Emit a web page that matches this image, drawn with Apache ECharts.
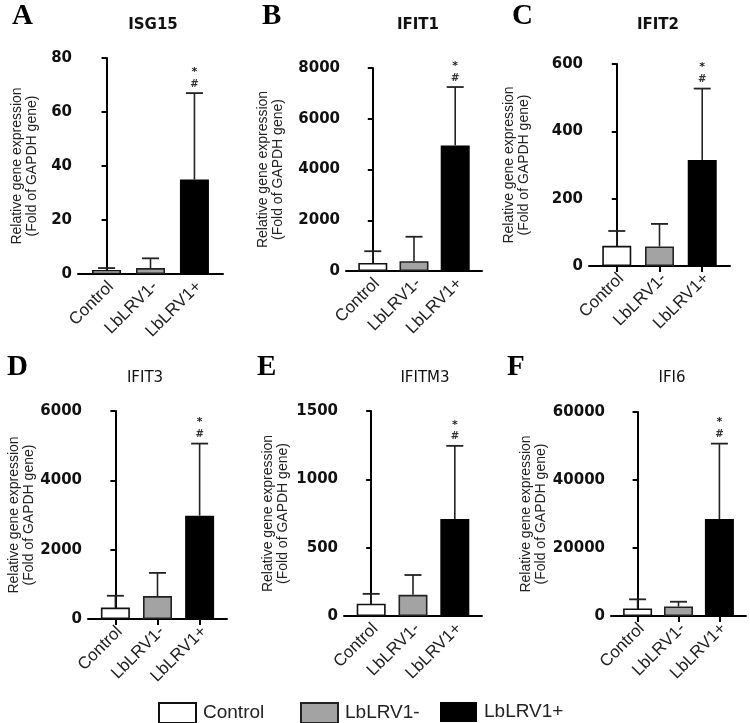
<!DOCTYPE html>
<html>
<head>
<meta charset="utf-8">
<script src="https://cdn.jsdelivr.net/npm/echarts@6/dist/echarts.min.js"></script>
<style>html,body{margin:0;padding:0;background:#fff}#c{width:750px;height:723px}</style>
</head>
<body>
<div id="c"></div>
<script>
// ---- data ----
const categories = ['Control', 'LbLRV1-', 'LbLRV1+'];
const genes = ['ISG15', 'IFIT1', 'IFIT2', 'IFIT3', 'IFITM3', 'IFI6'];
const letters = ['A', 'B', 'C', 'D', 'E', 'F'];
const isg15Mean = [1.5, 2.2, 35];     const isg15SD = [0.7, 3.6, 32];
const ifit1Mean = [315, 385, 4950];   const ifit1SD = [465, 965, 2300];
const ifit2Mean = [60, 58, 315];      const ifit2SD = [44, 67, 212];
const ifit3Mean = [330, 660, 2980];   const ifit3SD = [340, 670, 2080];
const ifitm3Mean = [90, 155, 710];    const ifitm3SD = [72, 145, 535];
const ifi6Mean = [2200, 2800, 28500]; const ifi6SD = [2700, 1400, 22200];
const yMax = [80, 8000, 600, 6000, 1500, 60000];
const yStep = [20, 2000, 200, 2000, 500, 20000];
const sigHash = ['', '', '#'];
const sigStar = ['', '', '*'];
const means = [isg15Mean, ifit1Mean, ifit2Mean, ifit3Mean, ifitm3Mean, ifi6Mean];
const sds = [isg15SD, ifit1SD, ifit2SD, ifit3SD, ifitm3SD, ifi6SD];

// ---- layout / style ----
const grids = [
  {left: 78, top: 58, width: 145, height: 216},
  {left: 346, top: 68, width: 136, height: 203},
  {left: 589, top: 64, width: 141, height: 202},
  {left: 88, top: 411, width: 139, height: 208},
  {left: 344, top: 411, width: 138, height: 205},
  {left: 611, top: 412, width: 135, height: 204}
];
const nameGaps = [38, 60, 57, 48, 53, 58];
const showXTick = [false, false, true, true, false, true];
const titlePos = [[153, 25], [418, 25], [658, 25], [145, 378], [425, 378], [672, 378]];
const letterPos = [[12, 17], [262, 17], [512, 17], [7, 368], [257, 368], [507, 368]];
const legendLeft = [158, 300, 440];
const titleWeight = ['bold', 'bold', 'bold', 'normal', 'normal', 'normal'];
const fills = ['#ffffff', '#a3a3a3', '#000000'];
const borders = ['#111', '#222', '#000'];
const labelShift = 0.1;

const option = {
  animation: false,
  backgroundColor: '#fff',
  grid: grids.map(g => Object.assign({containLabel: false}, g)),
  xAxis: grids.map((g, i) => ({
    type: 'value', gridIndex: i, min: -0.65, max: 2.65,
    splitLine: {show: false},
    axisLine: {show: true, onZero: false, lineStyle: {color: '#000', width: 2}},
    axisTick: {show: showXTick[i], customValues: [0, 1, 2], length: 6, lineStyle: {color: '#000', width: 2}},
    axisLabel: {
      customValues: [0, 1, 2].map(v => v + labelShift), rotate: 45, margin: 10,
      formatter: v => categories[Math.round(v)],
      fontFamily: 'Liberation Sans, Arial, sans-serif', fontSize: 17, color: '#222'
    }
  })),
  yAxis: grids.map((g, i) => ({
    type: 'value', gridIndex: i, min: 0, max: yMax[i], interval: yStep[i],
    splitLine: {show: false},
    axisLine: {show: true, lineStyle: {color: '#000', width: 2}},
    axisTick: {show: true, length: 5, lineStyle: {color: '#000', width: 2}},
    axisLabel: {margin: 6, formatter: v => String(v), fontFamily: 'DejaVu Sans, sans-serif', fontWeight: 'bold', fontSize: 15, color: '#111'},
    name: 'Relative gene expression\n(Fold of GAPDH gene)',
    nameLocation: 'middle', nameGap: nameGaps[i], nameRotate: 90,
    nameTextStyle: {fontFamily: 'Liberation Sans, Arial, sans-serif', fontSize: 14, lineHeight: 15, color: '#222'}
  })),
  legend: categories.map((c, k) => ({
    data: [c], left: legendLeft[k], top: 702, padding: 0, itemWidth: 37, itemHeight: 20,
    selectedMode: false, icon: 'rect',
    textStyle: {fontFamily: 'Liberation Sans, Arial, sans-serif', fontSize: 19, color: '#222', padding: [0, 0, 0, 2]}
  })),
  graphic: [],
  series: []
};

genes.forEach((gname, i) => {
  option.graphic.push({
    type: 'text', x: titlePos[i][0], y: titlePos[i][1], silent: true,
    style: {text: gname, textAlign: 'center', textVerticalAlign: 'middle',
      font: titleWeight[i] + ' 15px "DejaVu Sans", sans-serif', fill: '#111'}
  });
  option.graphic.push({
    type: 'text', x: letterPos[i][0], y: letterPos[i][1], silent: true,
    style: {text: letters[i], textAlign: 'left', textVerticalAlign: 'middle',
      font: 'bold 29px "Liberation Serif", "Times New Roman", serif', fill: '#000'}
  });
  categories.forEach((cat, k) => {
    option.series.push({
      type: 'bar', name: cat, xAxisIndex: i, yAxisIndex: i,
      barWidth: 29, barGap: '-100%',
      itemStyle: {color: fills[k], borderColor: borders[k], borderWidth: k === 2 ? 0 : 1.6},
      data: [[k, means[i][k]]]
    });
  });
  option.series.push({
    type: 'custom', name: 'err' + i, xAxisIndex: i, yAxisIndex: i, z: 5,
    data: categories.map((c, k) => [k, means[i][k], means[i][k] + sds[i][k], sigHash[k], sigStar[k]]),
    renderItem: (params, api) => {
      const x = api.value(0);
      const p0 = api.coord([x, api.value(1)]);
      const p1 = api.coord([x, api.value(2)]);
      const h = api.value(3), s = api.value(4);
      const children = [
        {type: 'line', shape: {x1: p0[0], y1: p0[1], x2: p1[0], y2: p1[1]}, style: {stroke: '#222', lineWidth: 1.6}},
        {type: 'line', shape: {x1: p1[0] - 8.5, y1: p1[1], x2: p1[0] + 8.5, y2: p1[1]}, style: {stroke: '#222', lineWidth: 1.8}}
      ];
      if (h) children.push({type: 'text', style: {text: h, x: p1[0], y: p1[1] - 9, textAlign: 'center', textVerticalAlign: 'middle', font: 'bold 10px "DejaVu Sans", sans-serif', fill: '#333'}});
      if (s) children.push({type: 'text', style: {text: s, x: p1[0], y: p1[1] - 21, textAlign: 'center', textVerticalAlign: 'middle', font: 'bold 11px "DejaVu Sans", sans-serif', fill: '#222'}});
      return {type: 'group', children};
    }
  });
});

const chart = echarts.init(document.getElementById('c'), null, {renderer: 'canvas'});
chart.setOption(option);
</script>
</body>
</html>
